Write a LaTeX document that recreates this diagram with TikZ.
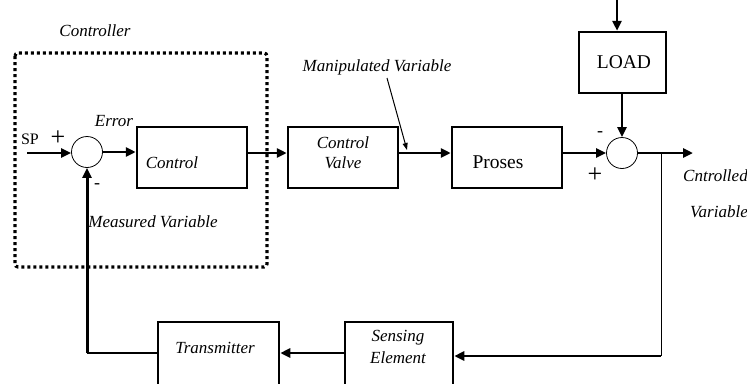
\documentclass[tikz,border=0pt]{standalone}
\usepackage{fontspec}
\setmainfont{Liberation Serif}
\usetikzlibrary{arrows.meta}
\begin{document}
\begin{tikzpicture}[x=1pt,y=-1pt,
  box/.style={draw,line width=2.5pt,inner sep=0pt},
  lbl/.style={font=\fontsize{17}{19}\selectfont\itshape,inner sep=0pt},
  up/.style={font=\fontsize{19.5}{21}\selectfont,inner sep=0pt},
  sgn/.style={font=\fontsize{26}{28}\selectfont,inner sep=0pt},
  msgn/.style={font=\fontsize{18}{20}\selectfont,inner sep=0pt},
  arr/.style={line width=2.5pt,-{Triangle[length=10pt,width=9pt]}},
  thinl/.style={line width=1pt},
  sumc/.style={draw,circle,line width=0.8pt,minimum size=31pt,inner sep=0pt}]
\useasboundingbox (0,0) rectangle (747,383);
\clip (0,0) rectangle (747,383);
% controller frame
\draw[line width=3.2pt,dash pattern=on 3pt off 3pt,rounded corners=3pt] (15,53) rectangle (267,267);
% blocks
\node[box,minimum width=110pt,minimum height=61pt] (ctl) at (192,157.5) {};
\node[box,minimum width=110pt,minimum height=61pt] (cv) at (343,157.5) {};
\node[box,minimum width=110pt,minimum height=61pt] (pr) at (507,157.5) {};
\node[box,minimum width=87pt,minimum height=61pt] (load) at (622.5,62.5) {};
\node[box,minimum width=121pt,minimum height=90pt] (tx) at (218.5,367) {};
\node[box,minimum width=108pt,minimum height=90pt] (se) at (399,367) {};
\node[sumc] (s1) at (87,152) {};
\node[sumc] (s2) at (622,153) {};
% texts
\node[lbl] (tctrl) at (95,31) {Controller};
\node[font=\fontsize{16}{18}\selectfont,inner sep=0pt] (tsp) at (30,139) {SP};
\node[sgn] (p1) at (58,138) {+};
\node[msgn] (m1) at (97,186) {-};
\node[lbl] (terr) at (114,121) {Error};
\node[lbl] (tctl) at (172,163) {Control};
\node[lbl] (tmeas) at (153,222) {Measured Variable};
\node[lbl] (tcv1) at (343,143) {Control};
\node[lbl] (tcv2) at (343,163) {Valve};
\node[up] (tpr) at (498,162) {Proses};
\node[up] (tload) at (624,62) {LOAD};
\node[msgn] (m2) at (600,134) {-};
\node[sgn] (p2) at (595,175) {+};
\node[lbl,anchor=west] (tout1) at (683,176) {Cntrolled};
\node[lbl,anchor=west] (tout2) at (690,212) {Variable};
\node[lbl] (ttx) at (215,348) {Transmitter};
\node[lbl] (tse1) at (398,338) {Sensing};
\node[lbl] (tse2) at (398,358) {Element};
\node[lbl] (tmv) at (377,67) {Manipulated Variable};
% connectors
\coordinate (row) at (0,153);
\coordinate (spin) at (27,153);
\draw[arr] (spin) -- (s1.west |- spin);
\draw[arr] (s1.east) -- (s1.east -| ctl.west);
\draw[arr] (ctl.east |- row) -- (cv.west |- row);
\draw[arr] (cv.east |- row) -- (pr.west |- row);
\draw[arr] (pr.east |- row) -- (s2.west);
\coordinate (out) at (693,153);
\draw[arr] (s2.east) -- (out);
\coordinate (ltop) at (617,0);
\draw[arr] (ltop) -- (ltop |- load.north);
\draw[arr] (load.south -| s2) -- (s2.north);
\coordinate (br) at (661,153);
\coordinate (brd) at (661,356);
\draw[thinl] (br) -- (brd);
\draw[arr] (brd) -- (se.east |- brd);
\coordinate (row2) at (0,353);
\draw[arr] (se.west |- row2) -- (tx.east |- row2);
\coordinate (fb) at (87,353);
\draw[line width=1.5pt] (tx.west |- row2) -- (fb);
\draw[line width=3pt,-{Triangle[length=10pt,width=9pt]}] (fb) -- (s1.south);
\coordinate (mvs) at (387,78);
\coordinate (mvt) at (407,150);
\draw[thinl,-{Triangle[length=7pt,width=5pt]}] (mvs) -- (mvt);
\end{tikzpicture}
\end{document}
